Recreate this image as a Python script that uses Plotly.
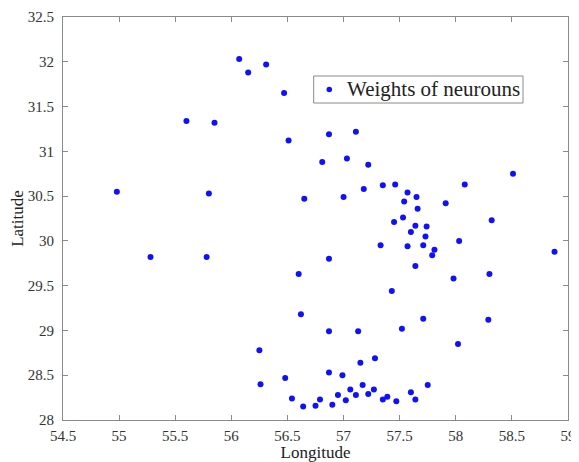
import plotly.graph_objects as go

longitude = [56.07, 56.15, 56.31, 56.47, 56.51, 55.60, 55.85, 54.98, 55.80,
             55.28, 55.78, 56.25, 56.26, 56.48,
             56.87, 57.11, 56.81, 57.03, 57.22, 56.65, 57.00, 57.18, 57.35, 57.46,
             57.57, 57.54, 57.65, 57.66, 57.91, 58.08, 58.51, 58.32,
             57.45, 57.53, 57.64, 57.74, 57.60, 57.73, 57.33, 57.57, 57.71, 57.81,
             57.79, 58.03, 56.87, 57.64, 58.88, 56.60, 57.98, 58.30, 57.43,
             56.62, 57.71, 58.29, 56.87, 57.13, 57.52, 58.02, 57.28, 57.15,
             56.87, 56.99, 57.75, 57.06, 57.17, 57.27, 56.95, 57.11, 57.22,
             57.39, 57.60, 56.54, 56.79, 57.35, 57.64, 57.02, 57.47, 56.64,
             56.75, 56.90]
latitude = [32.03, 31.88, 31.97, 31.65, 31.12, 31.34, 31.32, 30.55, 30.53,
            29.82, 29.82, 28.78, 28.40, 28.47,
            31.19, 31.22, 30.88, 30.92, 30.85, 30.47, 30.49, 30.58, 30.62, 30.63,
            30.54, 30.44, 30.49, 30.36, 30.42, 30.63, 30.75, 30.23,
            30.21, 30.26, 30.17, 30.16, 30.10, 30.05, 29.95, 29.94, 29.95, 29.90,
            29.84, 30.00, 29.80, 29.72, 29.88, 29.63, 29.58, 29.63, 29.44,
            29.18, 29.13, 29.12, 28.99, 28.99, 29.02, 28.85, 28.69, 28.64,
            28.53, 28.50, 28.39, 28.34, 28.39, 28.34, 28.28, 28.28, 28.29,
            28.26, 28.31, 28.24, 28.23, 28.23, 28.23, 28.22, 28.21, 28.15,
            28.16, 28.17]

x_ticks = [54.5, 55, 55.5, 56, 56.5, 57, 57.5, 58, 58.5, 59]
y_ticks = [28, 28.5, 29, 29.5, 30, 30.5, 31, 31.5, 32, 32.5]
x_labels = ["54.5", "55", "55.5", "56", "56.5", "57", "57.5", "58", "58.5", "59"]
y_labels = ["28", "28.5", "29", "29.5", "30", "30.5", "31", "31.5", "32", "32.5"]
series_name = "Weights of neurouns"

font_family = "Liberation Serif"
marker_color = "#1010ff"
line_color = "#8a8a8a"

fig = go.Figure()
fig.add_trace(go.Scatter(
    x=longitude, y=latitude, mode="markers",
    name=series_name, showlegend=False,
    marker=dict(color=marker_color, size=6, line=dict(width=0)),
))

axis_common = dict(
    showline=True, linecolor=line_color, linewidth=1, mirror="ticks",
    ticks="inside", ticklen=5, tickcolor=line_color, tickwidth=1,
    showgrid=False, zeroline=False, automargin=False,
    tickfont=dict(family=font_family, size=15, color="#333333"),
)

fig.update_xaxes(range=[54.5, 59], tickvals=x_ticks, ticktext=x_labels,
                 ticklabelstandoff=2,
                 title=dict(text="Longitude",
                            font=dict(family=font_family, size=17, color="#222222")),
                 **axis_common)
fig.update_yaxes(range=[28, 32.5], tickvals=y_ticks, ticktext=y_labels,
                 ticklabelstandoff=5,
                 title=dict(text="Latitude",
                            font=dict(family=font_family, size=17, color="#222222")),
                 **axis_common)

# legend box (drawn to match the compact MATLAB-style legend)
lx0, lx1, ly0, ly1 = 0.4964, 0.9109, 0.7866, 0.8536
fig.add_shape(type="rect", xref="paper", yref="paper",
              x0=lx0, x1=lx1, y0=ly0, y1=ly1,
              line=dict(color=line_color, width=1), fillcolor="white", layer="above")
mx, my = 0.5273, 0.8201
fig.add_shape(type="circle", xref="paper", yref="paper",
              x0=mx - 0.0055, x1=mx + 0.0055, y0=my - 0.0069, y1=my + 0.0069,
              line=dict(width=0), fillcolor=marker_color, layer="above")
fig.add_annotation(xref="paper", yref="paper", x=0.5594, y=my,
                   xanchor="left", yanchor="middle", showarrow=False,
                   text=series_name,
                   font=dict(family=font_family, size=21, color="#222222"))

fig.update_layout(
    width=571, height=454,
    margin=dict(l=55, r=11, t=9, b=42),
    paper_bgcolor="white", plot_bgcolor="white",
    showlegend=False,
)

fig.write_html("out.html")
